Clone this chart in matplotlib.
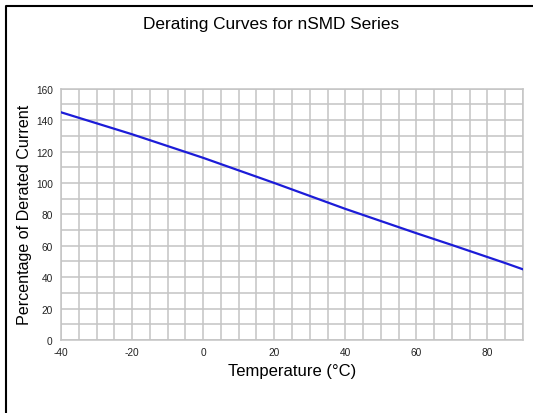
import matplotlib
matplotlib.use("Agg")
import matplotlib.pyplot as plt
from matplotlib.lines import Line2D

plt.rcParams['font.family'] = ['Liberation Sans', 'DejaVu Sans']
plt.rcParams['axes.unicode_minus'] = False

# derating curve
temp = [-40, -20, 0, 20, 40, 60, 70, 85, 90]
pct = [145, 131, 116, 100, 83.5, 68, 60.5, 49, 45]

xticks = [-40, -20, 0, 20, 40, 60, 80]
yticks = [0, 20, 40, 60, 80, 100, 120, 140, 160]

fig = plt.figure(figsize=(5.33, 4.14), dpi=100)
ax = fig.add_axes([0.1144, 0.1763, 0.8668, 0.607])

ax.plot(temp, pct, color='#1c1cd8', lw=1.6, zorder=3)

ax.set_xlim(-40, 90)
ax.set_ylim(0, 160)
ax.set_xticks(range(-40, 91, 5), minor=True)
ax.set_yticks(range(0, 161, 10), minor=True)
ax.set_xticks(xticks)
ax.set_yticks(yticks)
ax.tick_params(which='both', length=0, labelsize=7.3, colors='#222222')
ax.tick_params(axis='x', pad=5)
ax.tick_params(axis='y', pad=6)
ax.grid(which='both', color='#c4c4c4', lw=1.1)
ax.set_axisbelow(True)
for s in ax.spines.values():
    s.set_color('#c4c4c4')
    s.set_linewidth(1.1)

ax.set_xlabel('Temperature (°C)', fontsize=12, labelpad=4)
ax.set_ylabel('Percentage of Derated Current', fontsize=11.6, labelpad=3)
fig.text(0.508, 0.942, 'Derating Curves for nSMD Series', fontsize=12.4,
         ha='center', va='center')

# outer frame: only left and top edges show
fig.lines.append(Line2D([0.012, 0.012, 1.2], [-0.2, 0.983, 0.983],
                        transform=fig.transFigure, color='black', lw=1.5))

fig.savefig('out.png', dpi=100)
